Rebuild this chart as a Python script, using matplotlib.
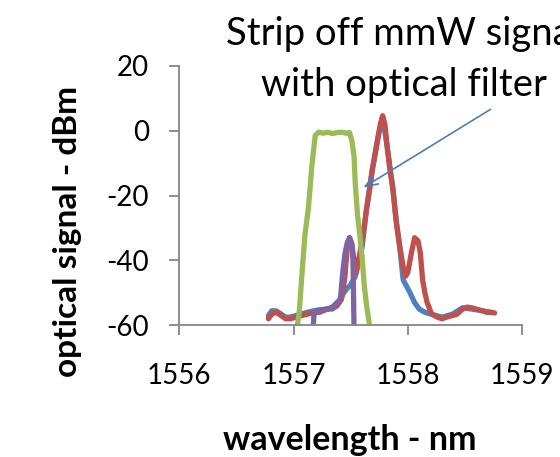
#!/usr/bin/env python3
"""Optical spectrum before/after filtering off the mmW signal."""

import matplotlib
matplotlib.use("Agg")
import matplotlib.pyplot as plt

# wavelength (nm) / power (dBm)
blue_wl = [1556.78, 1556.81, 1556.85, 1556.89, 1556.93, 1556.97, 1557.02, 1557.07,
           1557.12, 1557.18, 1557.23, 1557.29, 1557.34, 1557.38, 1557.42, 1557.46,
           1557.50, 1557.54, 1557.57, 1557.60, 1557.64, 1557.69, 1557.74, 1557.78,
           1557.82, 1557.87, 1557.90, 1557.93, 1557.96, 1557.99, 1558.02, 1558.06,
           1558.10, 1558.15, 1558.21, 1558.30, 1558.39, 1558.48, 1558.56, 1558.65,
           1558.73]
blue_db = [-57, -55.5, -55.6, -56.5, -57.5, -57.5, -57, -56.5, -56, -55.5, -55.2,
           -55, -55, -54, -51, -49, -47.5, -45, -40, -36, -24, -12, -2, 4.2, -5,
           -18, -28, -36, -46, -48, -50, -53, -55, -56, -56.6, -57.5, -56.6, -54.6,
           -55, -55.5, -56]

red_wl = [1556.78, 1556.81, 1556.85, 1556.89, 1556.93, 1556.97, 1557.02, 1557.07,
          1557.12, 1557.18, 1557.23, 1557.29, 1557.34, 1557.38, 1557.42, 1557.45,
          1557.47, 1557.49, 1557.51, 1557.53, 1557.55, 1557.57, 1557.60, 1557.62,
          1557.64, 1557.67, 1557.69, 1557.71, 1557.74, 1557.76, 1557.78, 1557.80,
          1557.82, 1557.84, 1557.87, 1557.90, 1557.93, 1557.96, 1557.98, 1558.00,
          1558.03, 1558.06, 1558.09, 1558.11, 1558.13, 1558.15, 1558.17, 1558.21,
          1558.26, 1558.30, 1558.34, 1558.39, 1558.43, 1558.48, 1558.52, 1558.56,
          1558.60, 1558.65, 1558.69, 1558.73, 1558.76]
red_db = [-58, -56.5, -56, -57, -58, -58, -57.5, -57, -56.6, -56, -55.6, -55,
          -54.5, -54, -52, -45, -36, -33, -35, -40, -43.6, -40, -34, -29, -24,
          -17, -12, -8, -2, 2, 4.6, 2, -5, -11, -18, -28.4, -35.7, -42, -44.9,
          -43.8, -38, -33, -34, -37.7, -46, -50, -53, -56.6, -57.5, -58, -57.5,
          -57, -56.6, -55, -54.4, -54.6, -55, -55.5, -56, -56, -56.2]

green_wl = [1557.03, 1557.05, 1557.07, 1557.10, 1557.13, 1557.16, 1557.19, 1557.22,
            1557.26, 1557.30, 1557.34, 1557.38, 1557.42, 1557.46, 1557.49, 1557.51,
            1557.53, 1557.54, 1557.56, 1557.58, 1557.60, 1557.62, 1557.64, 1557.67]
green_db = [-61, -56, -46, -32, -24, -11, -1.5, -0.5, -0.8, -0.5, -0.9, -0.6, -0.5,
            -0.8, -0.6, -3, -8, -16, -26, -32, -39, -48, -54, -61]

purple_wl = [1557.17, 1557.18, 1557.20, 1557.23, 1557.26, 1557.30, 1557.34, 1557.38,
             1557.41, 1557.43, 1557.45, 1557.47, 1557.49, 1557.51, 1557.52, 1557.525,
             1557.53]
purple_db = [-62, -56, -56, -56, -55.5, -55, -54.4, -53, -52, -44, -38, -34.6, -33,
             -35, -39.7, -50, -62]

x_ticks = [1556, 1557, 1558, 1559]
y_ticks = [-60, -40, -20, 0, 20]

FONT = ["Lato", "DejaVu Sans"]
AXIS_GREY = "#868686"


def main():
    plt.rcParams["font.family"] = FONT
    fig = plt.figure(figsize=(5.6, 4.57), dpi=100)
    ax = fig.add_axes([0.3202, 0.2882, 0.6119, 0.568])

    series = [
        (blue_wl, blue_db, "#4F81BD"),
        (red_wl, red_db, "#C0504D"),
        (green_wl, green_db, "#9BBB59"),
        (purple_wl, purple_db, "#8064A2"),
    ]
    for wl, db, color in series:
        ax.plot(wl, db, color=color, lw=3.8, solid_joinstyle="round",
                solid_capstyle="round")

    ax.set_xlim(1556, 1559)
    ax.set_ylim(-60, 20)
    ax.set_xticks(x_ticks)
    ax.set_yticks(y_ticks)
    ax.set_xticklabels([str(t) for t in x_ticks])
    ax.set_yticklabels([str(t) for t in y_ticks])

    for side in ("top", "right"):
        ax.spines[side].set_visible(False)
    for side in ("left", "bottom"):
        ax.spines[side].set_color(AXIS_GREY)
        ax.spines[side].set_linewidth(1.3)
    ax.tick_params(axis="both", direction="out", length=7, width=1.3,
                   color=AXIS_GREY, labelsize=20, labelcolor="black")
    ax.tick_params(axis="x", pad=20)
    ax.tick_params(axis="y", pad=15)

    fig.text(0.12, 0.4945, "optical signal - dBm", rotation=90, ha="center",
             va="center", fontsize=24, fontweight="bold")
    fig.text(0.625, 0.037, "wavelength - nm", ha="center", va="center",
             fontsize=24.5, fontweight="bold")

    # callout text + arrow pointing at the filter edge
    fig.text(0.7205, 0.9015, "Strip off mmW signal", ha="center", va="baseline",
             fontsize=27.5)
    fig.text(0.7205, 0.790, "with optical filter", ha="center", va="baseline",
             fontsize=27.5)
    ax.annotate("", xy=(1557.59, -18.0), xytext=(1558.745, 7.0),
                arrowprops=dict(arrowstyle="->,head_length=0.9,head_width=0.35",
                                color="#4A7EBB", lw=1.2),
                annotation_clip=False)

    fig.savefig("out.png", dpi=100)
    plt.close(fig)


if __name__ == "__main__":
    main()
